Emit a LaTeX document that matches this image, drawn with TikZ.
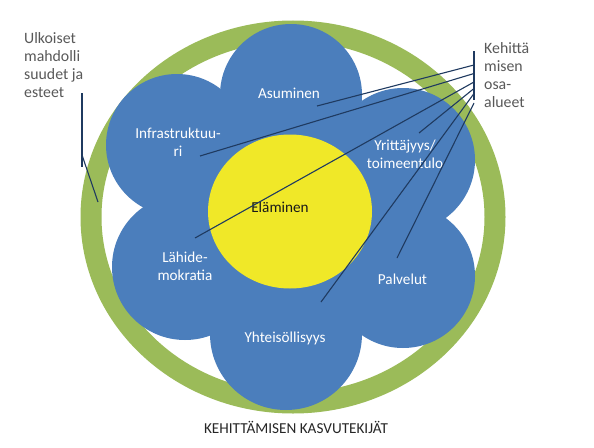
\documentclass[tikz,border=0pt]{standalone}
\usepackage{fontspec}
\setmainfont{Carlito}
\definecolor{petalblue}{HTML}{4B7EBC}
\definecolor{ringgreen}{HTML}{9BBB59}
\definecolor{coreyellow}{RGB}{240,232,40}
\definecolor{navyline}{HTML}{1F3A60}
\definecolor{notegray}{RGB}{89,89,89}
\begin{document}
\begin{tikzpicture}[x=1pt,y=-1pt,
  petal/.style={circle,fill=petalblue,inner sep=0pt},
  lbl/.style={text=white,align=center,font=\fontsize{15.2}{18}\selectfont,inner sep=0pt},
  note/.style={text=notegray,align=left,font=\fontsize{15.8}{17.9}\selectfont,inner sep=0pt,anchor=north west},
  conn/.style={draw=navyline,line width=1.1pt},
  brk/.style={draw=navyline,line width=1.6pt}]
\useasboundingbox (0,0) rectangle (594,447);
\fill[white] (0,0) rectangle (594,447);
% ring
\draw[ringgreen,line width=21pt] (293,217) ellipse [x radius=202pt, y radius=186pt];
% petals
\node[petal,minimum size=142pt] (pTop) at (291,95) {};
\node[petal,minimum size=142pt] (pUL) at (177,145) {};
\node[petal,minimum size=144pt] (pUR) at (403,160) {};
\node[petal,minimum size=146pt] (pLL) at (185,267) {};
\node[petal,minimum size=144pt] (pLR) at (403,276) {};
\node[petal,minimum size=152pt] (pBot) at (286,334) {};
% core
\fill[coreyellow] (290,211.5) ellipse [x radius=82pt, y radius=77pt];
% labels
\node[lbl] (tAsu) at (289,93) {Asuminen};
\node[lbl] (tInf) at (178,142) {Infrastruktuu-\\ri};
\node[lbl] (tYri) at (405,154) {Yrittäjyys/\\toimeentulo};
\node[lbl] (tLah) at (185,266) {Lähide-\\mokratia};
\node[lbl] (tPal) at (402.5,279) {Palvelut};
\node[lbl] (tYht) at (285,338) {Yhteisöllisyys};
\node[lbl,text=black!90] (tEla) at (280,207) {Eläminen};
\node[text=black!85,font=\fontsize{15.2}{18}\selectfont,inner sep=0pt] (title) at (296,427) {KEHITTÄMISEN KASVUTEKIJÄT};
% notes
\node[note] (nLeft) at (24,32.5) {Ulkoiset\\mahdolli\\suudet ja\\esteet};
\node[note] (nRight) at (484,42.5) {Kehittä\\misen\\osa-\\alueet};
% left bracket
\coordinate (lbTop) at (82,93);
\coordinate (lbBot) at (82,167);
\coordinate (lbJ) at (82,155);
\coordinate (lbEnd) at (98,202);
\draw[brk] (lbTop) -- (lbBot);
\draw[conn] (lbJ) -- (lbEnd);
% right bracket
\coordinate (rbTop) at (474,51);
\coordinate (rbBot) at (474,100);
\draw[brk] (rbTop) -- (rbBot);
\coordinate (r1) at (474,65);
\coordinate (r2) at (474,73.5);
\coordinate (r3) at (474,82);
\coordinate (r4) at (474,88.5);
\coordinate (r5) at (474,93.5);
\coordinate (r6) at (474,103);
\coordinate (eAsu) at (317,106);
\coordinate (eInf) at (200,156);
\coordinate (eLah) at (195,238);
\coordinate (eYri) at (419,133);
\coordinate (eYht) at (321,302);
\coordinate (ePal) at (397,258);
\draw[conn] (r1) -- (eAsu);
\draw[conn] (r2) -- (eInf);
\draw[conn] (r3) -- (eLah);
\draw[conn] (r4) -- (eYri);
\draw[conn] (r5) -- (eYht);
\draw[conn] (r6) -- (ePal);
\end{tikzpicture}
\end{document}
